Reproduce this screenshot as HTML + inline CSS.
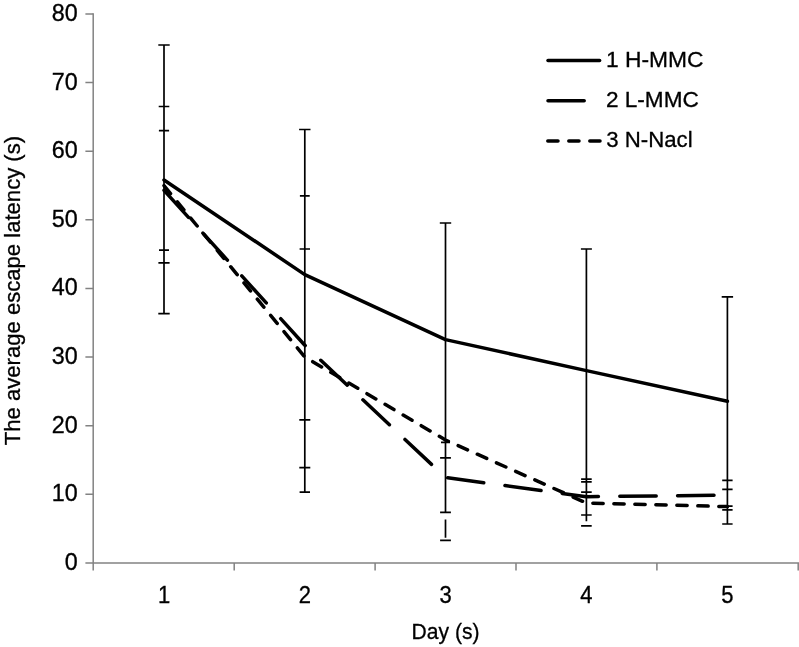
<!DOCTYPE html>
<html lang="en">
<head>
<meta charset="utf-8">
<title>The average escape latency (s) by Day</title>
<style>
  html, body { margin: 0; padding: 0; background: #ffffff; }
  body { width: 799px; height: 647px; overflow: hidden; }
  svg { display: block; filter: grayscale(1); }
  text { font-family: "Liberation Sans", sans-serif; font-size: 22px; fill: #000000; stroke: #000000; stroke-width: 0.3px; }
  .axis { stroke: #828282; stroke-width: 1.5; fill: none; }
  .err { stroke: #000000; stroke-width: 1.7; fill: none; }
  .ser { stroke: #000000; stroke-width: 3.5; fill: none; stroke-linecap: round; stroke-linejoin: round; }
</style>
</head>
<body>
<svg width="799" height="647" viewBox="0 0 799 647">
  <rect x="0" y="0" width="799" height="647" fill="#ffffff"/>

  <!-- axes -->
  <g class="axis">
    <path d="M93.2 13.2V570.5"/>
    <path d="M85.4 562.9H799"/>
    <!-- y ticks -->
    <path d="M85.4 13.9H93.2 M85.4 82.5H93.2 M85.4 151.2H93.2 M85.4 219.8H93.2 M85.4 288.4H93.2 M85.4 357H93.2 M85.4 425.7H93.2 M85.4 494.3H93.2"/>
    <!-- x ticks -->
    <path d="M234.2 562.9V570.5 M375.1 562.9V570.5 M516 562.9V570.5 M656.9 562.9V570.5 M798.2 562.9V570.5"/>
  </g>

  <!-- y tick labels -->
  <g text-anchor="end">
    <text transform="translate(77.7 20.9) scale(1.06 1.05)">80</text>
    <text transform="translate(77.7 89.5) scale(1.06 1.05)">70</text>
    <text transform="translate(77.7 158.2) scale(1.06 1.05)">60</text>
    <text transform="translate(77.7 226.8) scale(1.06 1.05)">50</text>
    <text transform="translate(77.7 295.4) scale(1.06 1.05)">40</text>
    <text transform="translate(77.7 364.0) scale(1.06 1.05)">30</text>
    <text transform="translate(77.7 432.7) scale(1.06 1.05)">20</text>
    <text transform="translate(77.7 501.3) scale(1.06 1.05)">10</text>
    <text transform="translate(77.7 569.9) scale(1.06 1.05)">0</text>
  </g>

  <!-- x tick labels -->
  <g text-anchor="middle">
    <text transform="translate(164.0 602.6) scale(1 1.06)">1</text>
    <text transform="translate(304.8 602.6) scale(1 1.06)">2</text>
    <text transform="translate(445.5 602.6) scale(1 1.06)">3</text>
    <text transform="translate(586.4 602.6) scale(1 1.06)">4</text>
    <text transform="translate(727.4 602.6) scale(1 1.06)">5</text>
  </g>

  <!-- axis titles -->
  <text x="411.5" y="639.2" textLength="68" lengthAdjust="spacingAndGlyphs">Day (s)</text>
  <text transform="translate(20.2 445.2) rotate(-90)" x="0" y="0" textLength="309.3" lengthAdjust="spacingAndGlyphs">The average escape latency (s)</text>

  <!-- error bars -->
  <g class="err">
    <!-- day 1 -->
    <path d="M164 45V313.6"/>
    <path d="M158.3 45H169.7 M158.7 106.5H169.3 M158.9 130.6H169.1 M159 250.2H169 M158.4 262.9H169.6 M158.3 313.6H169.7"/>
    <!-- day 2 -->
    <path d="M304.8 129.5V492.2"/>
    <path d="M299.1 129.5H310.5 M299.9 195.8H309.7 M299.6 249H310 M299.3 419.8H310.3 M299.3 467.6H310.3 M299.6 492.2H310"/>
    <!-- day 3 -->
    <path d="M445.5 223V512.3 M445.5 519.5V537.8"/>
    <path d="M439.8 223H451.2 M441 442.3H450 M440.1 457.8H450.9 M440.1 512.3H450.9 M440.1 540.4H450.9"/>
    <!-- day 4 -->
    <path d="M586.4 249V521.2"/>
    <path d="M580.9 249H591.9 M581.1 479.2H591.7 M581.1 481.8H591.7 M581.1 492.1H591.7 M581.1 515H591.7 M581.1 525.8H591.7"/>
    <!-- day 5 -->
    <path d="M727.4 296.9V524"/>
    <path d="M721.7 296.9H733.1 M722.2 480.4H732.6 M722.2 489.3H732.6 M722.2 506.1H732.6 M722.2 509.8H732.6 M722.2 524H732.6"/>
  </g>

  <!-- series 3: N-Nacl (short dash) -->
  <polyline class="ser" stroke-dasharray="10.3 10.7" points="164,185.6 304.8,357 445.5,440 586.4,503 727.4,506.6"/>
  <!-- series 2: L-MMC (long dash) -->
  <polyline class="ser" stroke-dasharray="36.4 21.4" points="164,190.4 304.8,345.2 445.5,477.5 586.4,496.7 727.4,495.2"/>
  <!-- series 1: H-MMC (solid) -->
  <polyline class="ser" points="164,180 304.8,274.6 445.5,339.6 586.4,370.6 727.4,401.3"/>

  <!-- legend -->
  <g class="ser">
    <path d="M548 60.6H599.6"/>
    <path d="M548 100.8H584.2"/>
    <path d="M547.8 141H558 M568.8 141H579 M589.8 141H600"/>
  </g>
  <text transform="translate(606.0 67.1)" textLength="97.6" lengthAdjust="spacingAndGlyphs">1 H-MMC</text>
  <text transform="translate(605.9 107.2)" textLength="92.9" lengthAdjust="spacingAndGlyphs">2 L-MMC</text>
  <text transform="translate(606.3 147.2)" textLength="86.3" lengthAdjust="spacingAndGlyphs">3 N-Nacl</text>
</svg>
</body>
</html>
